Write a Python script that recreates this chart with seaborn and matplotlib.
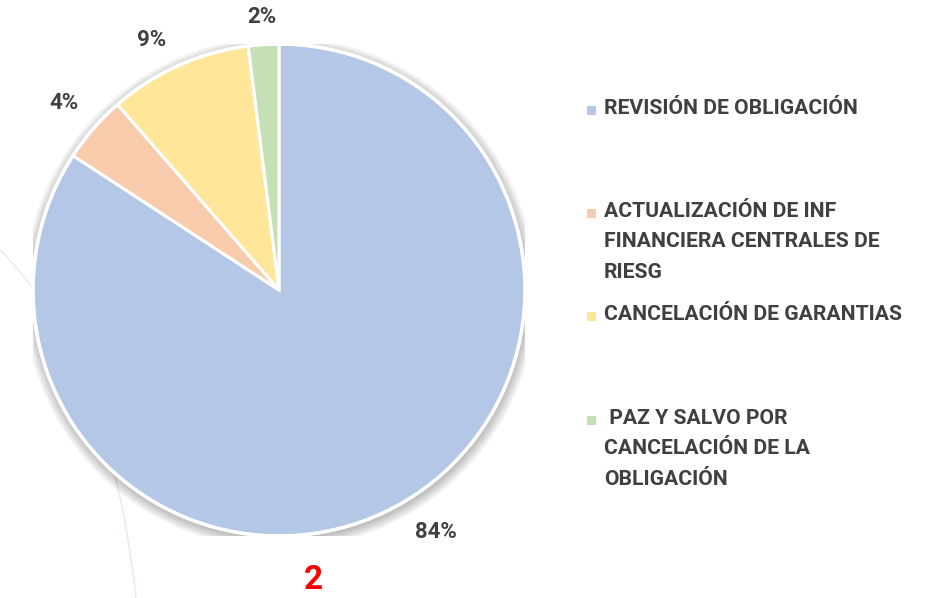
import matplotlib
matplotlib.use("Agg")
import matplotlib.pyplot as plt
import matplotlib.patches as mpatches
from matplotlib.path import Path
import numpy as np
import seaborn as sns

categorias = [
    "REVISIÓN DE OBLIGACIÓN",
    "ACTUALIZACIÓN DE INF\nFINANCIERA CENTRALES DE\nRIESG",
    "CANCELACIÓN DE GARANTIAS",
    " PAZ Y SALVO POR\nCANCELACIÓN DE LA\nOBLIGACIÓN",
]
porcentajes = [84.2, 4.4, 9.4, 2.0]
colores = ["#B4C7E7", "#F8CBAD", "#FFE699", "#C5E0B4"]

sns.set_theme(style="white")
plt.rcParams['font.family'] = ['Roboto', 'DejaVu Sans']
txt = "#404040"

W, H = 930, 598
fig = plt.figure(figsize=(W / 100, H / 100), dpi=100)
fig.patch.set_facecolor("white")

# faint decorative curve in the background
bg = fig.add_axes([0, 0, 1, 1])
bg.set_xlim(0, W)
bg.set_ylim(H, 0)
bg.axis("off")
curve = Path([(0, 250), (110, 360), (136, 598)], [Path.MOVETO, Path.CURVE3, Path.CURVE3])
bg.add_patch(mpatches.PathPatch(curve, fill=False, edgecolor="#F1ECE3", lw=1.2))

cx, cy, r = 279, 290, 246
ax = fig.add_axes([(cx - r) / W, (H - cy - r) / H, 2 * r / W, 2 * r / H])

# soft shadow behind the pie
for k in range(8):
    ax.add_patch(mpatches.Circle((0.004, -0.012), 1.0 + 0.006 * k, color="black",
                                 alpha=0.035, lw=0, zorder=0))

wedges, texts, autotexts = ax.pie(
    porcentajes, colors=colores, startangle=90, counterclock=False,
    autopct="%1.0f%%", pctdistance=1.15,
    wedgeprops=dict(edgecolor="white", linewidth=2.2),
    textprops=dict(color=txt, fontsize=16, fontweight="bold"),
)
# label placement like Excel's "best fit"
dist = [1.17, 1.16, 1.14, 1.11]
shift = [4.5, 0, 3, 0]
for w, t, d, s in zip(wedges, autotexts, dist, shift):
    a = np.deg2rad((w.theta1 + w.theta2) / 2 + s)
    t.set_position((d * np.cos(a), d * np.sin(a)))
    t.set_ha("center")
    t.set_va("center")
ax.add_patch(mpatches.Circle((0, 0), 1.0, fill=False, edgecolor="white", lw=2.5, zorder=5))
ax.set_xlim(-1, 1)
ax.set_ylim(-1, 1)

# legend drawn as text blocks, handle aligned to the first line
ys = [110, 213, 316, 420]
for y, lab, col in zip(ys, categorias, colores):
    bg.add_patch(mpatches.Rectangle((587, y - 4.5), 9, 9, color=col, lw=0))
    bg.text(604, y - 11, lab, color=txt, fontsize=15.2, fontweight="bold",
            va="top", ha="left", linespacing=1.76)

bg.text(313, 580, "2", color="#FF0000", fontsize=24, fontweight="bold",
        ha="center", va="center")

fig.savefig("out.png", dpi=100, facecolor="white")
